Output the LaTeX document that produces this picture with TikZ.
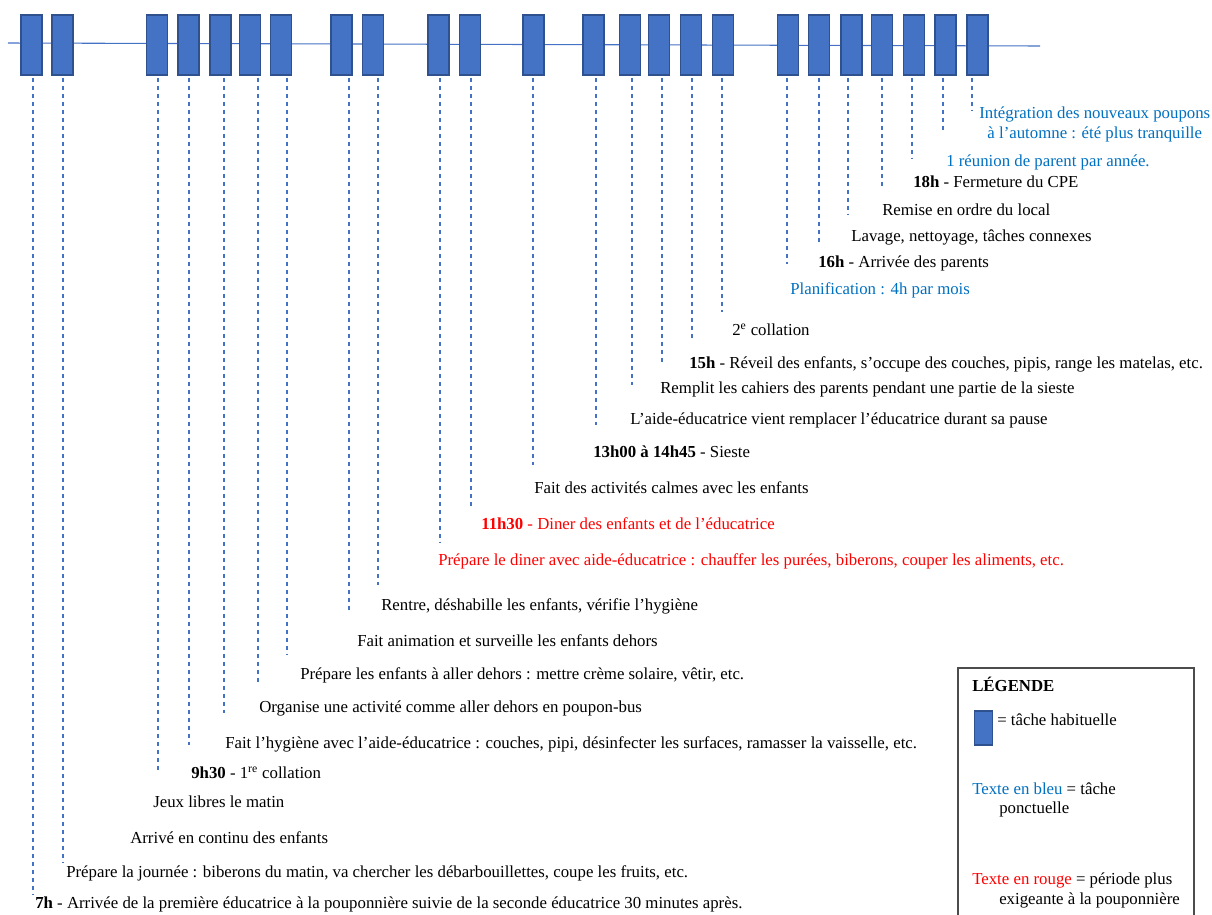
\documentclass[tikz,border=0pt]{standalone}
\usepackage{fontspec}
\setmainfont{Liberation Serif}
\definecolor{barfill}{HTML}{4472C4}
\definecolor{barline}{HTML}{2F528F}
\definecolor{tblue}{HTML}{0070C0}
\definecolor{tred}{HTML}{FF0000}
\begin{document}
\begin{tikzpicture}[x=0.75pt,y=-0.75pt,
  taskbar/.style={draw=barline, line width=1.1pt, fill=barfill, inner sep=0pt,
    minimum width=15.5pt, minimum height=45pt},
  axisline/.style={draw=barfill, line width=0.8pt},
  guide/.style={draw=barfill, line width=0.9pt, dash pattern=on 3.5pt off 2.5pt},
  lbl/.style={anchor=base west, inner sep=0pt, font=\fontsize{12.6}{15}\selectfont},
  blue/.style={text=tblue},
  red/.style={text=tred},
  frame/.style={draw=black!70, line width=0.8pt}]
\useasboundingbox (0,0) rectangle (1212,914);

% time axis
\coordinate (ax0) at (8,43);
\coordinate (ax1) at (1040,46);
\draw[axisline] (ax0) -- (ax1);

% task bars with their dashed guide lines: index / bar x / guide x / guide end y
\foreach \i/\bx/\gx/\gy in {
  1/31.5/33/895, 2/62.5/63/862, 3/157/158/772, 4/188.5/189/745,
  5/220.5/224/713, 6/250/258/685, 7/281/287/655, 8/341.5/349/612,
  9/373/378/585, 10/438.5/440/543, 11/470/471/507, 12/533.5/533/465,
  13/593.5/596/425, 14/630/632/385, 15/659/662/363, 16/691/692/340,
  17/723/722/312, 18/788/787/264, 19/819/819/245, 20/851.5/848/215,
  21/882/882/187, 22/914/912/158, 23/945.5/943/133, 24/977.5/972/110}{
  \node[taskbar] (b\i) at (\bx,45) {};
  \coordinate (e\i) at (\gx,\gy);
  \draw[guide] (b\i.south -| e\i) ++(0,2) -- (e\i);
}

% activity labels
\node[lbl] (t1) at (35,908) {\textbf{7h} - Arrivée de la première éducatrice à la pouponnière suivie de la seconde éducatrice 30 minutes après.};
\node[lbl] (t2) at (66,877) {Prépare la journée : biberons du matin, va chercher les débarbouillettes, coupe les fruits, etc.};
\node[lbl] (t3) at (130,843) {Arrivé en continu des enfants};
\node[lbl] (t4) at (153,807) {Jeux libres le matin};
\node[lbl] (t5) at (191,778) {\textbf{9h30} - 1\textsuperscript{re} collation};
\node[lbl] (t6) at (225,748) {Fait l’hygiène avec l’aide-éducatrice : couches, pipi, désinfecter les surfaces, ramasser la vaisselle, etc.};
\node[lbl] (t7) at (259,712) {Organise une activité comme aller dehors en poupon-bus};
\node[lbl] (t8) at (300,679) {Prépare les enfants à aller dehors : mettre crème solaire, vêtir, etc.};
\node[lbl] (t9) at (357,646) {Fait animation et surveille les enfants dehors};
\node[lbl] (t10) at (381,610) {Rentre, déshabille les enfants, vérifie l’hygiène};
\node[lbl,red] (t11) at (438,565) {Prépare le diner avec aide-éducatrice : chauffer les purées, biberons, couper les aliments, etc.};
\node[lbl,red] (t12) at (481,529) {\textbf{11h30} - Diner des enfants et de l’éducatrice};
\node[lbl] (t13) at (534,493) {Fait des activités calmes avec les enfants};
\node[lbl] (t14) at (593,457) {\textbf{13h00 à 14h45} - Sieste};
\node[lbl] (t15) at (630,424) {L’aide-éducatrice vient remplacer l’éducatrice durant sa pause};
\node[lbl] (t16) at (660,393) {Remplit les cahiers des parents pendant une partie de la sieste};
\node[lbl] (t17) at (689,368) {\textbf{15h} - Réveil des enfants, s’occupe des couches, pipis, range les matelas, etc.};
\node[lbl] (t18) at (732,335) {2\textsuperscript{e} collation};
\node[lbl,blue] (t19) at (790,294) {Planification : 4h par mois};
\node[lbl] (t20) at (818,267) {\textbf{16h} - Arrivée des parents};
\node[lbl] (t21) at (851,241) {Lavage, nettoyage, tâches connexes};
\node[lbl] (t22) at (882,215) {Remise en ordre du local};
\node[lbl] (t23) at (913,187) {\textbf{18h} - Fermeture du CPE};
\node[lbl] (t24) at (946,166) {\textcolor{tblue}{1 réunion de parent par année.}};
\node[lbl,blue,align=center] (t25) at (979,138) {Intégration des nouveaux poupons\\à l’automne : été plus tranquille};

% legend
\coordinate (lg0) at (958,920);
\coordinate (lg1) at (958,668);
\coordinate (lg2) at (1194,668);
\coordinate (lg3) at (1194,920);
\draw[frame] (lg0) -- (lg1) -- (lg2) -- (lg3);
\node[lbl] (lgtitle) at (972,691) {\textbf{LÉGENDE}};
\node[taskbar, minimum width=14pt, minimum height=25.5pt, line width=0.9pt] (lgbar) at (983.5,728) {};
\node[lbl] (lgtask) at (997,725) {= tâche habituelle};
\node[lbl] (lgblue) at (972,794) {\textcolor{tblue}{Texte en bleu} = tâche};
\node[lbl] (lgblue2) at (999,813) {ponctuelle};
\node[lbl] (lgred) at (972,884) {\textcolor{tred}{Texte en rouge} = période plus};
\node[lbl] (lgred2) at (999,904) {exigeante à la pouponnière};
\end{tikzpicture}
\end{document}
